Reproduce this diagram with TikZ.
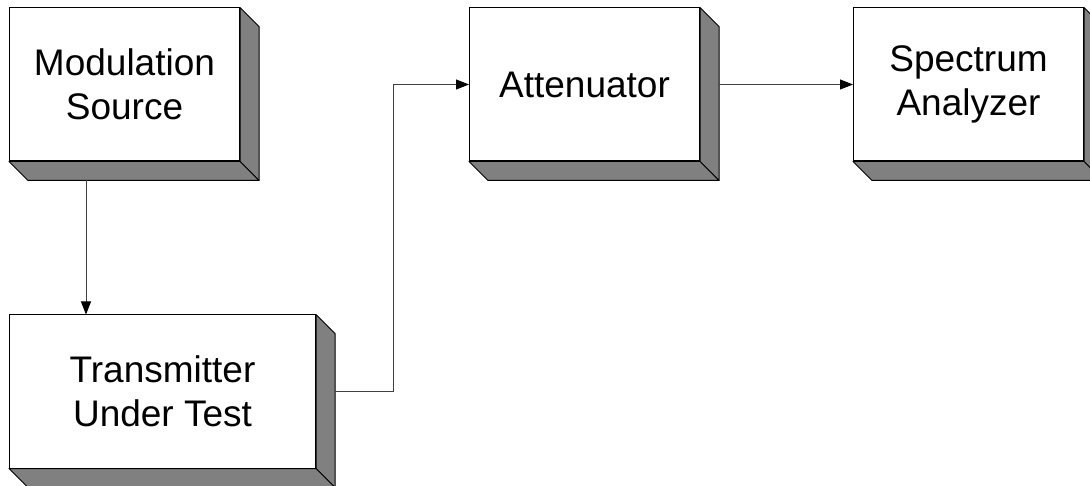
\documentclass[tikz,border=0pt]{standalone}
\usepackage{fontspec}
\setmainfont{Liberation Sans}
\usepackage{xcolor}
\usetikzlibrary{positioning, calc, arrows.meta}

\definecolor{sidegray}{HTML}{808080}
\definecolor{wiregray}{HTML}{404040}

\begin{document}
\begin{tikzpicture}[
    x=1pt, y=1pt,
    every node/.style={font=\fontsize{37pt}{44pt}\selectfont},
    block/.style={
        rectangle,
        draw,
        fill=white,
        line width=1pt,
        inner sep=0pt,
        minimum width=230pt,
        minimum height=153pt,
        align=center
    },
    depth/.style={
        fill=sidegray,
        draw=black,
        line width=1pt,
        line join=round
    },
    arrow/.style={
        ->,
        >={Triangle[length=13pt,width=10pt,color=black]},
        draw=wiregray,
        line width=0.8pt
    }
]
\useasboundingbox (0,0) rectangle (1090,485);

% Blocs
\node[block] (modsrc) at (124.5,400.5) {Modulation\\Source};
\node[block, right=229pt of modsrc] (atten) {Attenuator};
\node[block, right=153pt of atten] (specan) {Spectrum\\Analyzer};
\node[block, minimum width=306pt, below=153pt of modsrc.south west, anchor=north west] (tut) {Transmitter\\Under Test};

% Relief
\foreach \n in {modsrc, atten, specan, tut} {
    \draw[depth] (\n.north east) -- ++(19,-19) -- ($(\n.south east)+(19,-19)$) -- (\n.south east) -- cycle;
    \draw[depth] (\n.south west) -- (\n.south east) -- ++(19,-19) -- ($(\n.south west)+(19,-19)$) -- cycle;
}

% Flèches
\draw[arrow] ([xshift=77pt, yshift=-19pt]modsrc.south west) -- ([xshift=77pt]tut.north west);
\draw[arrow] ([xshift=19pt]tut.east) -- ++(58,0) |- (atten.west);
\draw[arrow] ([xshift=19pt]atten.east) -- (specan.west);

\end{tikzpicture}
\end{document}
